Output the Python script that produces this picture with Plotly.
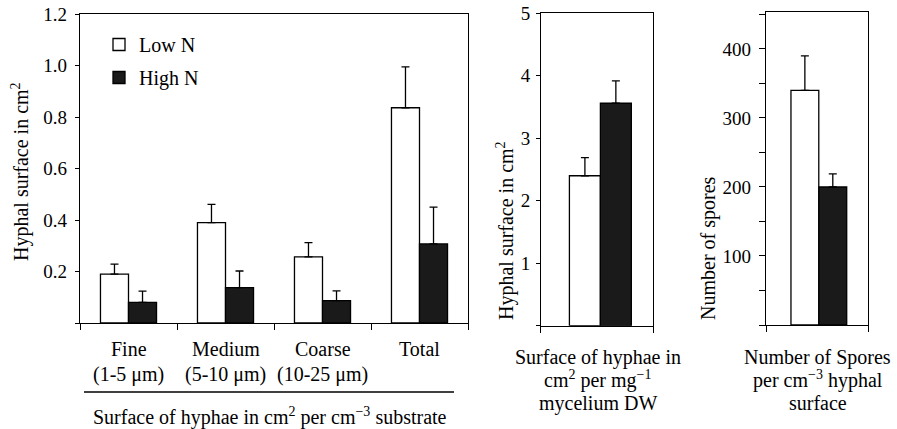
import plotly.graph_objects as go

# ---------------- data ----------------
categories = ["Fine", "Medium", "Coarse", "Total"]
size_ranges = ["(1-5 μm)", "(5-10 μm)", "(10-25 μm)", ""]
series_names = ["Low N", "High N"]

surface_low = [0.19, 0.39, 0.257, 0.836]
surface_low_se = [0.039, 0.071, 0.055, 0.159]
surface_high = [0.080, 0.137, 0.087, 0.307]
surface_high_se = [0.044, 0.065, 0.038, 0.143]

mycel_low = [2.40]
mycel_low_se = [0.29]
mycel_high = [3.56]
mycel_high_se = [0.36]

spores_low = [340]
spores_low_se = [50]
spores_high = [200]
spores_high_se = [19]

p1_ticks = [0.2, 0.4, 0.6, 0.8, 1.0, 1.2]
p1_ticktext = ["0.2", "0.4", "0.6", "0.8", "1.0", "1.2"]
p2_ticks = [1, 2, 3, 4, 5]
p2_ticktext = ["1", "2", "3", "4", "5"]
p3_ticks = [100, 200, 300, 400]
p3_ticktext = ["100", "200", "300", "400"]
p3_minor = [0, 50, 150, 250, 350, 450]

caption2 = ["Surface of hyphae in", "cm<sup>2</sup> per mg<sup>−1</sup>", "mycelium DW"]
caption3 = ["Number of Spores", "per cm<sup>−3</sup> hyphal", "surface"]
caption1 = "Surface of hyphae in cm<sup>2</sup> per cm<sup>−3</sup> substrate"
ytitle1 = "Hyphal surface in cm<sup>2</sup>"
ytitle2 = "Hyphal surface in cm<sup>2</sup>"
ytitle3 = "Number of spores"

# ---------------- styling ----------------
W, H = 897, 429
FONT = "Liberation Serif"
DARK = "#1a1a1a"
LW = 1.3


def px(v):
    return v / W


def py(v):
    return 1 - v / H


fig = go.Figure()


def add_pair(xpos, low, low_se, high, high_se, xa, ya, width, off_low, off_high, legend):
    fig.add_trace(go.Bar(
        x=xpos, y=low, name=series_names[0], legendgroup="low", showlegend=legend,
        marker=dict(color="white", line=dict(color="black", width=LW)),
        width=width, offset=off_low, xaxis=xa, yaxis=ya,
        error_y=dict(type="data", array=low_se, arrayminus=[0] * len(low), symmetric=False,
                     color="black", thickness=LW, width=4),
    ))
    fig.add_trace(go.Bar(
        x=xpos, y=high, name=series_names[1], legendgroup="high", showlegend=legend,
        marker=dict(color=DARK, line=dict(color="black", width=LW)),
        width=width, offset=off_high, xaxis=xa, yaxis=ya,
        error_y=dict(type="data", array=high_se, arrayminus=[0] * len(high), symmetric=False,
                     color="black", thickness=LW, width=4),
    ))


xcat = list(range(len(categories)))
add_pair(xcat, surface_low, surface_low_se, surface_high, surface_high_se,
         "x", "y", 0.289, -0.289, 0.0, True)
add_pair([0], mycel_low, mycel_low_se, mycel_high, mycel_high_se,
         "x2", "y2", 0.275, -0.245, 0.030, False)
add_pair([0], spores_low, spores_low_se, spores_high, spores_high_se,
         "x3", "y3", 0.272, -0.256, 0.017, False)

axis_common = dict(showline=True, linecolor="black", linewidth=LW, mirror=True,
                   showgrid=False, zeroline=False, ticks="outside", tickcolor="black",
                   tickwidth=LW, automargin=False,
                   tickfont=dict(family=FONT, size=19, color="black"))
xaxis_common = dict(axis_common, showticklabels=False, ticklen=6)

fig.update_layout(
    width=W, height=H,
    margin=dict(l=0, r=0, t=0, b=0, autoexpand=False),
    paper_bgcolor="white", plot_bgcolor="white",
    barmode="overlay",
    font=dict(family=FONT, size=20, color="black"),
    showlegend=True,
    legend=dict(x=px(99), y=py(25), xanchor="left", yanchor="top",
                bgcolor="rgba(0,0,0,0)", font=dict(family=FONT, size=20, color="black"),
                tracegroupgap=4, traceorder="grouped"),
    xaxis=dict(domain=[px(80), px(468)], range=[-0.5, 3.5],
               tickvals=[-0.5, 0.5, 1.5, 2.5, 3.5], anchor="y", **xaxis_common),
    yaxis=dict(domain=[py(323), py(14)], range=[0, 1.2],
               tickvals=p1_ticks, ticktext=p1_ticktext, ticklen=4, anchor="x",
               ticklabelstandoff=4,
               minor=dict(tickvals=[0], ticks="outside", ticklen=4, tickcolor="black",
                          tickwidth=LW, showgrid=False),
               **axis_common),
    xaxis2=dict(domain=[px(540.7), px(653.3)], range=[-0.5, 0.5],
                tickvals=[-0.5, 0.5], anchor="y2", **xaxis_common),
    yaxis2=dict(domain=[py(325.7), py(13.3)], range=[0, 5],
                tickvals=p2_ticks, ticktext=p2_ticktext, ticklen=3.5, anchor="x2",
                ticklabelstandoff=2,
                minor=dict(tickvals=[0], ticks="outside", ticklen=3.5, tickcolor="black",
                           tickwidth=LW, showgrid=False),
                **axis_common),
    xaxis3=dict(domain=[px(766), px(868.3)], range=[-0.5, 0.5],
                tickvals=[-0.5, 0.5], anchor="y3", **xaxis_common),
    yaxis3=dict(domain=[py(325), py(11.7)], range=[0, 454],
                tickvals=p3_ticks, ticktext=p3_ticktext, ticklen=6, anchor="x3",
                ticklabelstandoff=4,
                minor=dict(tickvals=p3_minor, ticks="outside", ticklen=6, tickcolor="black",
                           tickwidth=LW, showgrid=False),
                **axis_common),
)

ann = []
# category labels under panel 1
for i, (c, r) in enumerate(zip(categories, size_ranges)):
    ann.append(dict(x=i, y=py(349), xref="x", yref="paper", text=c, showarrow=False,
                    xanchor="center", yanchor="middle", font=dict(size=20)))
    if r:
        ann.append(dict(x=i, y=py(374), xref="x", yref="paper", text=r, showarrow=False,
                        xanchor="center", yanchor="middle", font=dict(size=20)))
ann.append(dict(x=px(270), y=py(416), xref="paper", yref="paper", text=caption1,
                showarrow=False, xanchor="center", yanchor="middle", font=dict(size=20)))
for cap, cx in ((caption2, 597.5), (caption3, 817.5)):
    for line, cy in zip(cap, (357, 379, 403)):
        ann.append(dict(x=px(cx), y=py(cy), xref="paper", yref="paper", text=line,
                        showarrow=False, xanchor="center", yanchor="middle",
                        font=dict(size=20)))
for t, cx, cy in ((ytitle1, 20, 172), (ytitle2, 505, 231), (ytitle3, 709, 248)):
    ann.append(dict(x=px(cx), y=py(cy), xref="paper", yref="paper", text=t, textangle=-90,
                    showarrow=False, xanchor="center", yanchor="middle", font=dict(size=20)))
fig.update_layout(annotations=ann)

fig.add_shape(type="line", xref="paper", yref="paper", x0=px(84), x1=px(454),
              y0=py(392), y1=py(392), line=dict(color="black", width=LW))

fig.write_html("out.html", config={"displayModeBar": False},
               post_script="document.body.style.margin='0';")
